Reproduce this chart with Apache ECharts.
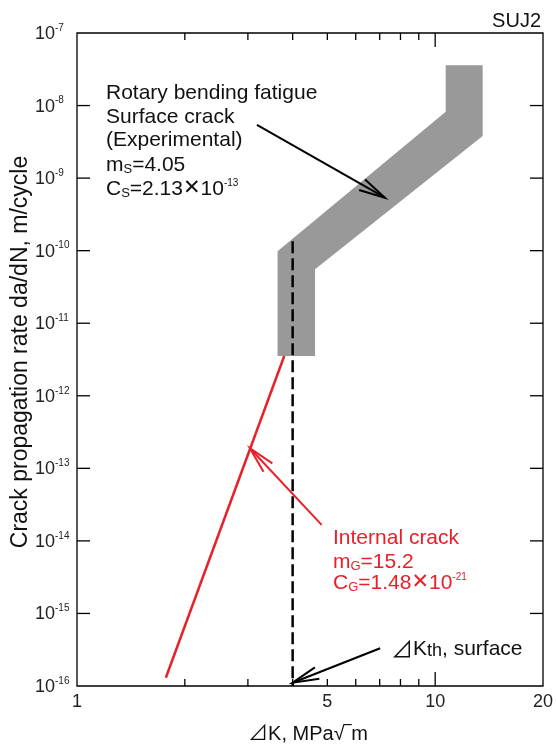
<!DOCTYPE html>
<html><head><meta charset="utf-8">
<script src="https://cdn.jsdelivr.net/npm/echarts@6/dist/echarts.min.js"></script>
<style>html,body{margin:0;padding:0;background:#fff}#c{width:556px;height:745px}</style>
</head><body><div id="c"></div>
<script>
// ---- axis ranges & ticks ----
const X_MIN = 1, X_MAX = 20;
const Y_MIN = 1e-16, Y_MAX = 1e-7;
const xLabelVals = [1, 5, 10, 20];
const xMinorTicks = [2, 3, 4, 5, 6, 7, 8, 9];
const xMajorTicks = [10];
const yTickExps = [-8, -9, -10, -11, -12, -13, -14, -15];
const yLabelExps = [-7, -8, -9, -10, -11, -12, -13, -14, -15, -16];

// ---- surface crack band (experimental), polygon vertices ----
const bandX = [10.7, 13.57, 13.57, 4.62, 4.62, 3.63, 3.63, 10.7];
const bandY = [3.59e-8, 3.59e-8, 3.8e-9, 5.54e-11, 3.54e-12, 3.54e-12, 9.8e-11, 8.2e-9];

// ---- internal crack line ----
const internalX = [1.77, 3.79];
const internalY = [1.30e-16, 3.54e-12];

// ---- threshold (surface) dashed line ----
const thresholdX = [4.0, 4.0];
const thresholdY = [1.35e-10, 1e-16];

// ---- annotation arrows: [xTail, yTail, xHead, yHead] ----
const blackArrows = [
  [3.18, 5.4e-9, 7.24, 5.37e-10],
  [7.02, 3.31e-16, 4.0, 1.11e-16]
];
const redArrows = [
  [4.82, 1.66e-14, 3.04, 1.89e-13]
];

const RED = '#e8202a';
const FONT = '"Liberation Sans", Arial, "Noto Sans CJK JP", sans-serif';

function arrowRender(color) {
  return function (params, api) {
    const p1 = api.coord([api.value(0), api.value(1)]);
    const p2 = api.coord([api.value(2), api.value(3)]);
    const dx = p1[0] - p2[0], dy = p1[1] - p2[1];
    const L = Math.hypot(dx, dy), ux = dx / L, uy = dy / L;
    const len = 27, a = 13 * Math.PI / 180;
    const rot = (ang) => [p2[0] + len * (ux * Math.cos(ang) - uy * Math.sin(ang)),
                          p2[1] + len * (ux * Math.sin(ang) + uy * Math.cos(ang))];
    return {
      type: 'group', children: [
        { type: 'line', shape: { x1: p1[0], y1: p1[1], x2: p2[0], y2: p2[1] }, style: { stroke: color, lineWidth: 2 } },
        { type: 'polyline', shape: { points: [rot(a), p2, rot(-a)] }, style: { stroke: color, lineWidth: 2, fill: null } }
      ]
    };
  };
}

function xTickRender(len) {
  return function (params, api) {
    const v = api.value(0);
    const b = api.coord([v, Y_MIN]), t = api.coord([v, Y_MAX]);
    return { type: 'group', children: [
      { type: 'line', shape: { x1: b[0], y1: b[1], x2: b[0], y2: b[1] - len }, style: { stroke: '#000', lineWidth: 1.3 } },
      { type: 'line', shape: { x1: t[0], y1: t[1], x2: t[0], y2: t[1] + len }, style: { stroke: '#000', lineWidth: 1.3 } }
    ]};
  };
}

const chart = echarts.init(document.getElementById('c'), null, { renderer: 'canvas' });
const option = {
  animation: false,
  backgroundColor: '#fff',
  grid: { left: 77, right: 13, top: 33, bottom: 59, show: true, borderColor: '#000', borderWidth: 1.3, backgroundColor: 'transparent' },
  xAxis: { type: 'log', logBase: 10, min: X_MIN, max: X_MAX,
    axisLine: { show: false }, axisTick: { show: false }, axisLabel: { show: false }, splitLine: { show: false } },
  yAxis: { type: 'log', logBase: 10, min: Y_MIN, max: Y_MAX,
    axisLine: { show: false }, axisTick: { show: false }, axisLabel: { show: false }, splitLine: { show: false } },
  series: [
    { type: 'custom', name: 'band', data: [[bandX[0], bandY[0]]], encode: { x: 0, y: 1 }, z: 1,
      renderItem: function (params, api) {
        const pts = bandX.map((x, i) => api.coord([x, bandY[i]]));
        return { type: 'polygon', shape: { points: pts }, style: { fill: '#999999' } };
      } },
    { type: 'line', name: 'internal', data: internalX.map((x, i) => [x, internalY[i]]), symbol: 'none', z: 3,
      lineStyle: { color: RED, width: 2.5 } },
    { type: 'line', name: 'threshold', data: thresholdX.map((x, i) => [x, thresholdY[i]]), symbol: 'none', z: 4,
      lineStyle: { color: '#000', width: 2.5, type: [12, 5] } },
    { type: 'custom', data: blackArrows, encode: { x: [0, 2], y: [1, 3] }, renderItem: arrowRender('#000'), z: 5 },
    { type: 'custom', data: redArrows, encode: { x: [0, 2], y: [1, 3] }, renderItem: arrowRender(RED), z: 5 },
    { type: 'custom', data: xMinorTicks.map(v => [v, Y_MIN]), encode: { x: 0, y: 1 }, renderItem: xTickRender(7), z: 6 },
    { type: 'custom', data: xMajorTicks.map(v => [v, Y_MIN]), encode: { x: 0, y: 1 }, renderItem: xTickRender(14), z: 6 },
    { type: 'custom', data: yTickExps.map(e => [X_MIN, Math.pow(10, e)]), encode: { x: 0, y: 1 }, z: 6,
      renderItem: function (params, api) {
        const v = api.value(1);
        const l = api.coord([X_MIN, v]), r = api.coord([X_MAX, v]);
        return { type: 'group', children: [
          { type: 'line', shape: { x1: l[0], y1: l[1], x2: l[0] + 13, y2: l[1] }, style: { stroke: '#000', lineWidth: 1.3 } },
          { type: 'line', shape: { x1: r[0], y1: r[1], x2: r[0] - 13, y2: r[1] }, style: { stroke: '#000', lineWidth: 1.3 } }
        ]};
      } },
    { type: 'custom', data: xLabelVals.map(v => [v, Y_MIN]), encode: { x: 0, y: 1 }, z: 6,
      renderItem: function (params, api) {
        const v = api.value(0);
        const p = api.coord([v, Y_MIN]);
        return { type: 'text', x: p[0], y: p[1] + 16,
          style: { text: String(v), fill: '#222', font: '18px ' + FONT, align: 'center', verticalAlign: 'middle' } };
      } },
    { type: 'custom', data: yLabelExps.map(e => [X_MIN, Math.pow(10, e), e]), encode: { x: 0, y: 1 }, z: 6,
      renderItem: function (params, api) {
        const e = api.value(2);
        const p = api.coord([X_MIN, api.value(1)]);
        return { type: 'group', children: [
          { type: 'text', x: p[0] - 42, y: p[1] + 1,
            style: { text: '10', fill: '#222', font: '18px ' + FONT, align: 'left', verticalAlign: 'middle' } },
          { type: 'text', x: p[0] - 22, y: p[1] - 5,
            style: { text: String(e), fill: '#222', font: '10px ' + FONT, align: 'left', verticalAlign: 'middle' } }
        ]};
      } }
  ],
  graphic: [
    { type: 'text', x: 541, y: 21, style: { text: 'SUJ2', font: '20px ' + FONT, fill: '#111', align: 'right', verticalAlign: 'middle' } },
    { type: 'text', x: 21, y: 352, rotation: Math.PI / 2,
      style: { text: 'Crack propagation rate da/dN, m/cycle', font: '23px ' + FONT, fill: '#111', align: 'center', verticalAlign: 'middle' } },
    { type: 'text', x: 308, y: 734,
      style: { text: '⊿K, MPa√‾m', font: '20px ' + FONT, fill: '#111', align: 'center', verticalAlign: 'middle' } },
    // black annotation
    { type: 'text', x: 106, y: 93, style: { text: 'Rotary bending fatigue', font: '21px ' + FONT, fill: '#111', verticalAlign: 'middle' } },
    { type: 'text', x: 106, y: 117, style: { text: 'Surface crack', font: '21px ' + FONT, fill: '#111', verticalAlign: 'middle' } },
    { type: 'text', x: 106, y: 140, style: { text: '(Experimental)', font: '21px ' + FONT, fill: '#111', verticalAlign: 'middle' } },
    { type: 'text', x: 106, y: 165, style: { text: '{n|m}{s|S}{n|=4.05}', verticalAlign: 'middle',
      rich: { n: { fontSize: 21, fontFamily: FONT, fill: '#111' }, s: { fontSize: 13, fontFamily: FONT, fill: '#111', verticalAlign: 'bottom' } } } },
    { type: 'text', x: 106, y: 189, style: { text: '{n|C}{s|S}{n|=2.13}{x|✕}{n|10}{p|-13}', verticalAlign: 'middle',
      rich: { n: { fontSize: 21, fontFamily: FONT, fill: '#111' }, s: { fontSize: 13, fontFamily: FONT, fill: '#111', verticalAlign: 'bottom' },
              x: { fontSize: 21, fontFamily: '"DejaVu Sans", sans-serif', fill: '#111' },
              p: { fontSize: 10, fontFamily: FONT, fill: '#111', verticalAlign: 'top' } } } },
    // red annotation
    { type: 'text', x: 333, y: 538, style: { text: 'Internal crack', font: '21px ' + FONT, fill: RED, verticalAlign: 'middle' } },
    { type: 'text', x: 333, y: 562, style: { text: '{n|m}{s|G}{n|=15.2}', verticalAlign: 'middle',
      rich: { n: { fontSize: 21, fontFamily: FONT, fill: RED }, s: { fontSize: 13, fontFamily: FONT, fill: RED, verticalAlign: 'bottom' } } } },
    { type: 'text', x: 333, y: 583, style: { text: '{n|C}{s|G}{n|=1.48}{x|✕}{n|10}{p|-21}', verticalAlign: 'middle',
      rich: { n: { fontSize: 21, fontFamily: FONT, fill: RED }, s: { fontSize: 13, fontFamily: FONT, fill: RED, verticalAlign: 'bottom' },
              x: { fontSize: 21, fontFamily: '"DejaVu Sans", sans-serif', fill: RED },
              p: { fontSize: 10, fontFamily: FONT, fill: RED, verticalAlign: 'top' } } } },
    // threshold label
    { type: 'text', x: 391, y: 649, style: { text: '{d|⊿}{n|K}{s|th}{n|, surface}', verticalAlign: 'middle',
      rich: { d: { fontSize: 22, fontFamily: '"Noto Sans CJK JP", "DejaVu Sans", sans-serif', fill: '#111' },
              n: { fontSize: 21, fontFamily: FONT, fill: '#111' }, s: { fontSize: 18, fontFamily: FONT, fill: '#111', verticalAlign: 'bottom' } } } }
  ]
};
chart.setOption(option);
</script>
</body></html>
